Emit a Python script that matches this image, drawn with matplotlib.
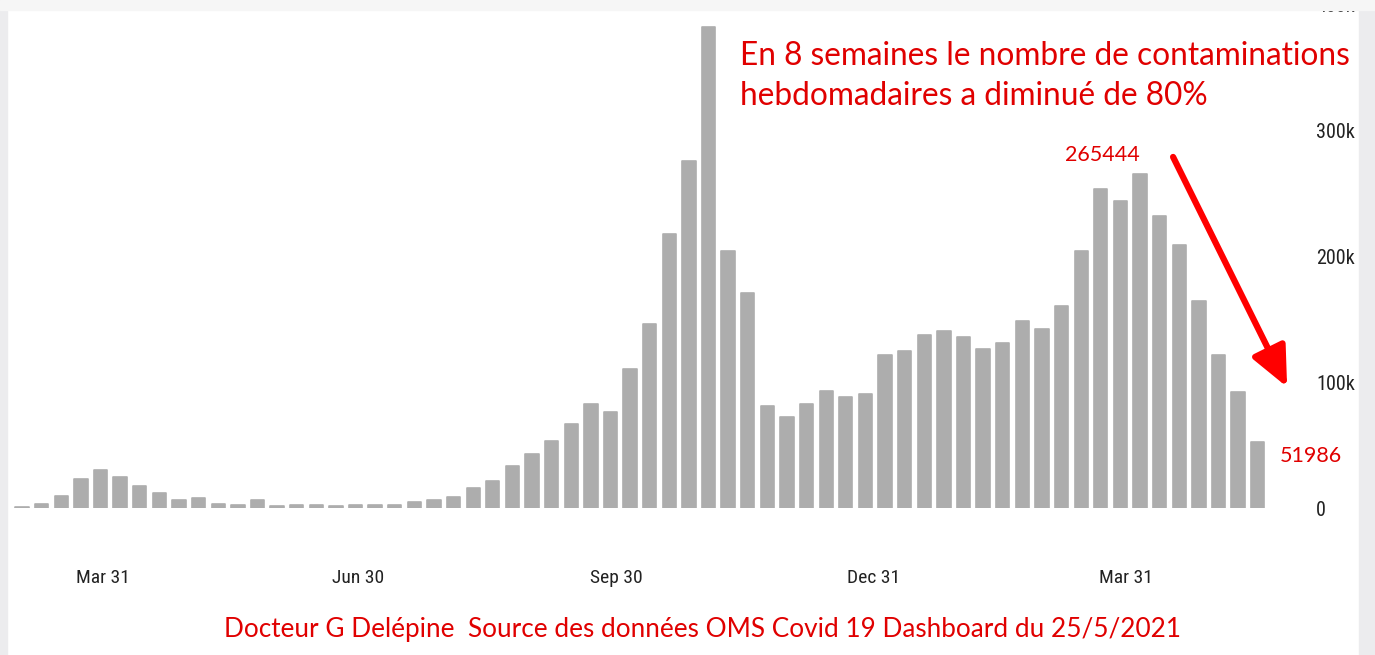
import matplotlib
matplotlib.use("Agg")
import matplotlib.pyplot as plt
import matplotlib.dates as mdates
from matplotlib.patches import Rectangle
from matplotlib.ticker import FuncFormatter
import pandas as pd

# ---- data (weekly new cases, France, WHO dashboard) ----
week_start = "2020-03-02"
weekly_cases_k = [
    0.5, 3.5, 9.5, 22.8, 30.4, 24.6, 17.7, 11.9, 6.1, 7.7,
    2.9, 2.1, 6.1, 1.6, 2.4, 2.1, 1.6, 2.6, 2.4, 2.6,
    4.5, 6.4, 9.0, 16.2, 21.2, 33.0, 43.0, 53.0, 66.4, 82.3,
    76.2, 110.3, 146.3, 217.5, 275.1, 381.7, 203.7, 170.6, 80.7, 72.2,
    82.3, 93.1, 88.4, 90.5, 121.7, 124.3, 137.6, 140.2, 135.4, 126.2,
    130.7, 148.7, 142.4, 160.3, 203.7, 252.9, 243.4, 265.444, 231.7, 208.5,
    164.0, 121.7, 91.8, 51.986,
]
tick_dates = ["2020-03-31", "2020-06-30", "2020-09-30", "2020-12-31", "2021-03-31"]
tick_labels = ["Mar 31", "Jun 30", "Sep 30", "Dec 31", "Mar 31"]
y_ticks = [0, 100000, 200000, 300000, 400000]
title_text = "En 8 semaines le nombre de contaminations\nhebdomadaires a diminué de 80%"
footer_text = "Docteur G Delépine  Source des données OMS Covid 19 Dashboard du 25/5/2021"
peak_label = "265444"
last_label = "51986"

dates = pd.date_range(week_start, periods=len(weekly_cases_k), freq="7D")
values = [v * 1000 for v in weekly_cases_k]

W, H = 1375, 655
fig = plt.figure(figsize=(W / 100, H / 100), dpi=100)
fig.patch.set_facecolor("white")

# axes placement (pixels)
ax_l, ax_r, ax_b, ax_t = 10, 1300, 508, 4
ax = fig.add_axes([ax_l / W, 1 - ax_b / H, (ax_r - ax_l) / W, (ax_b - ax_t) / H])
ax.set_facecolor("none")

bar_color = "#adadad"
ax.bar(dates, values, width=4.76, color=bar_color, edgecolor=bar_color,
       linewidth=1.2, joinstyle="round", zorder=2)

x0 = mdates.date2num(dates[0]) - 4.32
x1 = mdates.date2num(dates[-1]) + 15.1
ax.set_xlim(x0, x1)
ax.set_ylim(0, 400000)

for s in ax.spines.values():
    s.set_visible(False)

tick_font = ["Liberation Sans Narrow", "Roboto Condensed", "Liberation Sans", "DejaVu Sans"]
ax.set_xticks([mdates.date2num(pd.Timestamp(d)) for d in tick_dates])
ax.set_xticklabels(tick_labels, family=tick_font, fontsize=14, color="#222222")
ax.tick_params(axis="x", length=0, pad=44)

ax.yaxis.tick_right()
ax.set_yticks(y_ticks)
ax.yaxis.set_major_formatter(FuncFormatter(lambda v, p: "0" if v == 0 else f"{v/1000:.0f}k"))
for lab in ax.get_yticklabels():
    lab.set_family(tick_font)
ax.tick_params(axis="y", length=0, pad=11.5, labelsize=14.5, labelcolor="#222222")

red = "#e00000"
txt_font = ["Lato", "DejaVu Sans"]

# annotations tied to bars
ax.annotate(peak_label, xy=(dates[57], values[57]), xytext=(-27, 13),
            textcoords="offset points", ha="center", va="center",
            color=red, fontsize=15.5, family=txt_font)
ax.annotate(last_label, xy=(dates[-1], values[-1]), xytext=(38, -10),
            textcoords="offset points", ha="center", va="center",
            color=red, fontsize=15.5, family=txt_font, annotation_clip=False)

# red arrow
arr_start = (mdates.date2num(dates[0]) + 410.8, 278600)
arr_end = (mdates.date2num(dates[0]) + 451.5, 96000)
ax.annotate("", xy=arr_end, xytext=arr_start,
            arrowprops=dict(arrowstyle="-|>,head_length=1.1,head_width=0.5",
                            color="#ff0000", lw=4.5, mutation_scale=22,
                            shrinkA=0, shrinkB=0),
            annotation_clip=False)

fig.text(740 / W, 1 - 76 / H, title_text, ha="left", va="center",
         color=red, fontsize=22.8, family=txt_font, linespacing=1.44)
fig.text(702 / W, 1 - 630 / H, footer_text, ha="center", va="center",
         color=red, fontsize=18.8, family=txt_font)

# light gray frame strips
frame = "#ececee"
fig.patches.append(Rectangle((0, 0), 7 / W, 1, transform=fig.transFigure,
                             color=frame, zorder=10))
fig.patches.append(Rectangle((1359 / W, 0), 16 / W, 1, transform=fig.transFigure,
                             color=frame, zorder=10))
fig.patches.append(Rectangle((0, 1 - 10 / H), 1, 10 / H, transform=fig.transFigure,
                             color="#f6f6f6", zorder=10))

fig.savefig("out.png", dpi=100)
